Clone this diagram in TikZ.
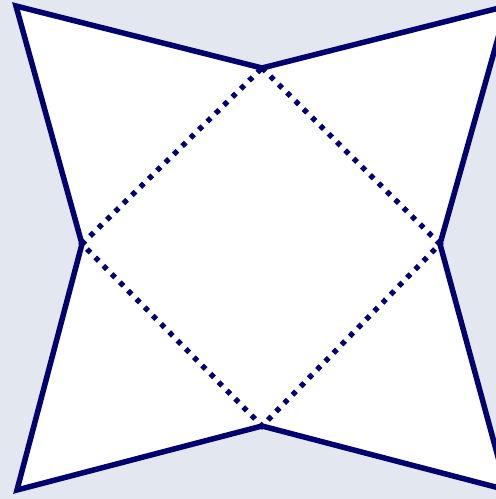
\documentclass[tikz,border=0pt]{standalone}
\definecolor{bgcol}{RGB}{227,231,240}
\definecolor{navy}{RGB}{0,0,110}
\tikzset{
  outline/.style={draw=navy, line width=5.5pt, line join=miter},
  fold/.style={draw=navy, line width=5.3pt, dash pattern=on 5pt off 6.7pt}
}
\begin{document}
\begin{tikzpicture}[x=1pt,y=-1pt]

	% background and frame
	\fill[bgcol] (0,0) rectangle (496,499);
	\useasboundingbox (0,0) rectangle (496,499);
	\clip (0,0) rectangle (496,499);

	% corner points of the star
	\coordinate (tl) at (16,6);
	\coordinate (tr) at (507,6);
	\coordinate (br) at (507,490);
	\coordinate (bl) at (17,490);
	\coordinate (top) at (262,68);
	\coordinate (right) at (440,244);
	\coordinate (bottom) at (262,426);
	\coordinate (left) at (82,244);

	% star outline
	\fill[white] (tl) -- (top) -- (tr) -- (right) -- (br) -- (bottom) -- (bl) -- (left) -- cycle;
	\draw[outline] (tl) -- (top) -- (tr) -- (right) -- (br) -- (bottom) -- (bl) -- (left) -- cycle;

	% inner square (fold lines)
	\draw[fold] (top) -- (right) -- (bottom) -- (left) -- cycle;

\end{tikzpicture}
\end{document}
